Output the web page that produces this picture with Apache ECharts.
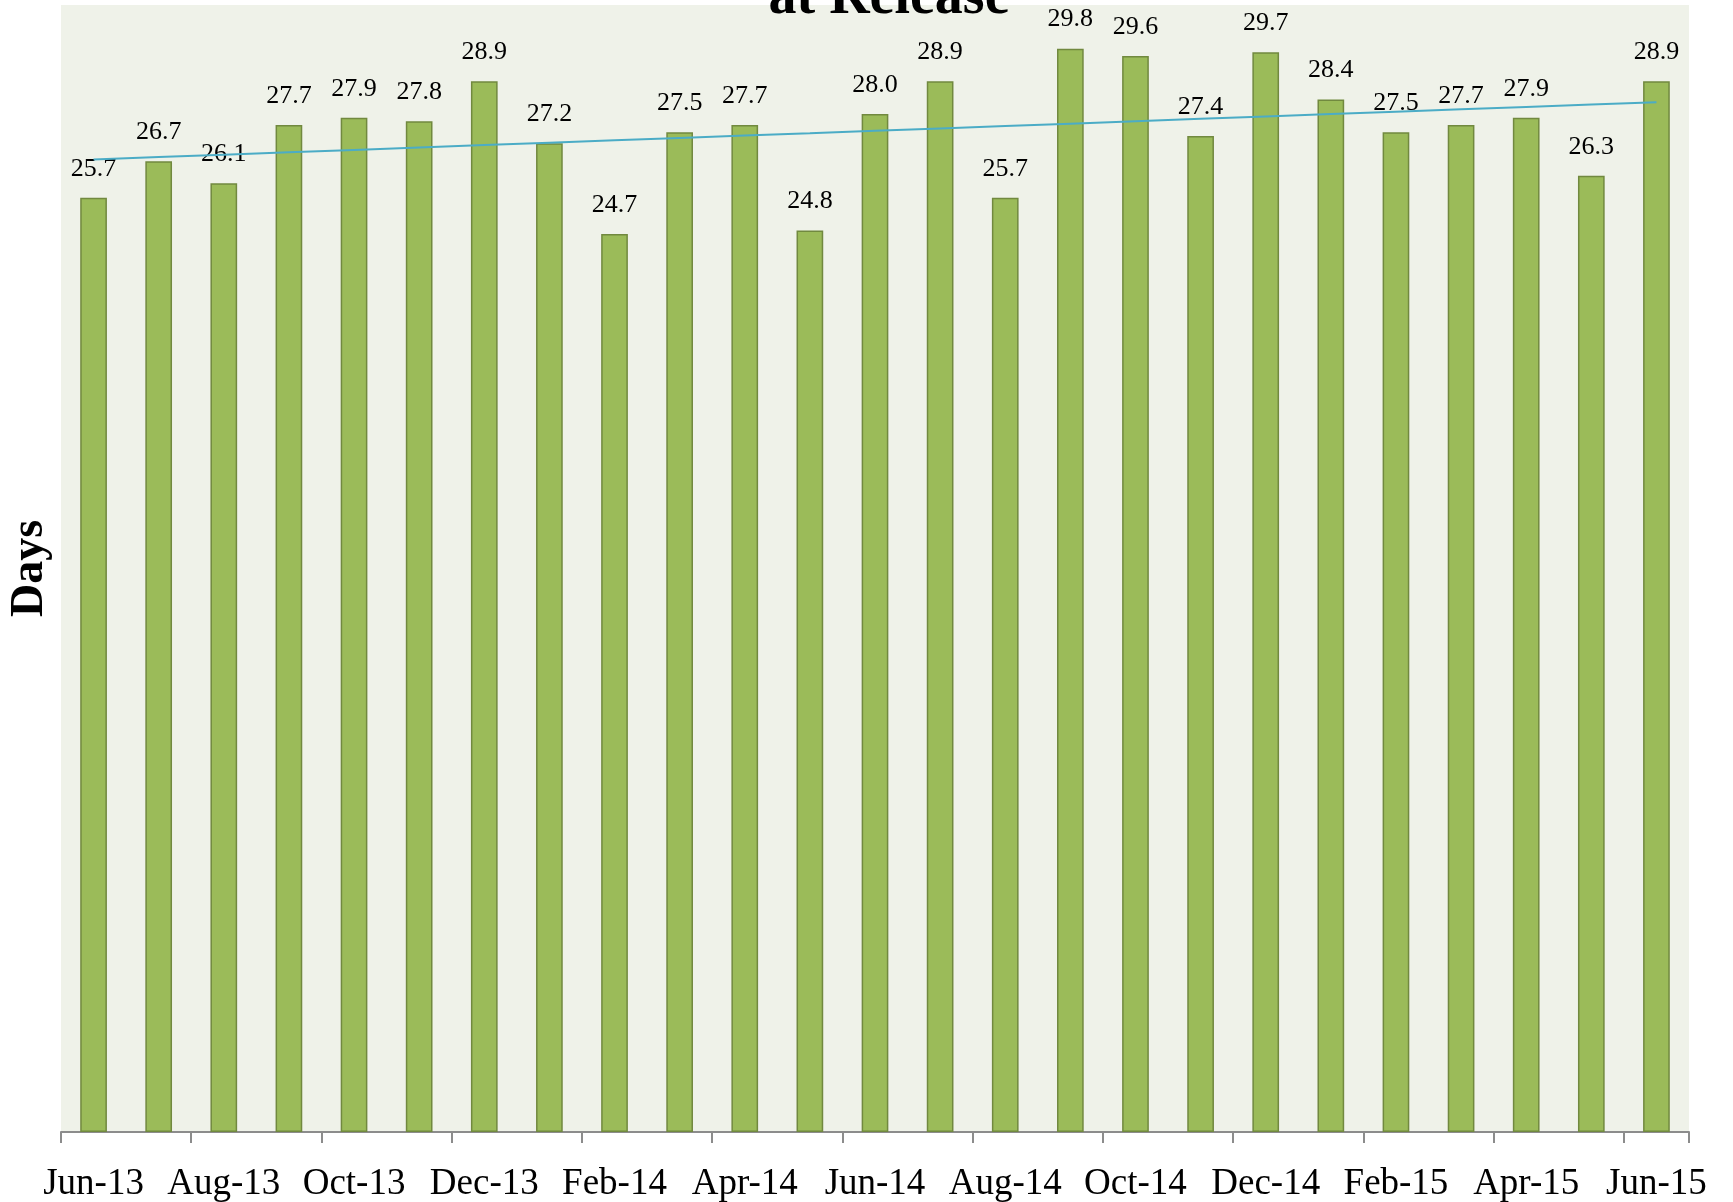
<!DOCTYPE html>
<html>
<head>
<meta charset="utf-8">
<script src="https://cdn.jsdelivr.net/npm/echarts@6/dist/echarts.min.js"></script>
<style>
html,body{margin:0;padding:0;background:#fff;}
#chart{width:1733px;height:1202px;}
</style>
</head>
<body>
<div id="chart"></div>
<script>
const categories = ["Jun-13","Jul-13","Aug-13","Sep-13","Oct-13","Nov-13","Dec-13","Jan-14","Feb-14","Mar-14","Apr-14","May-14","Jun-14","Jul-14","Aug-14","Sep-14","Oct-14","Nov-14","Dec-14","Jan-15","Feb-15","Mar-15","Apr-15","May-15","Jun-15"];
const days = [25.7,26.7,26.1,27.7,27.9,27.8,28.9,27.2,24.7,27.5,27.7,24.8,28.0,28.9,25.7,29.8,29.6,27.4,29.7,28.4,27.5,27.7,27.9,26.3,28.9];
const titleText = "at Release";
const yAxisName = "Days";

// Linear trendline (least squares) derived from the data, like the original's trendline
const n = days.length;
const meanX = (n - 1) / 2;
const meanY = days.reduce((a, b) => a + b, 0) / n;
let sxy = 0, sxx = 0;
days.forEach((v, i) => { sxy += (i - meanX) * (v - meanY); sxx += (i - meanX) * (i - meanX); });
const slope = sxy / sxx;
const trend = days.map((v, i) => +(meanY + slope * (i - meanX)).toFixed(3));

const serif = '"Liberation Serif", "Times New Roman", serif';
const chart = echarts.init(document.getElementById('chart'));
chart.setOption({
  animation: false,
  backgroundColor: '#ffffff',
  title: {
    text: titleText,
    left: 884,
    textAlign: 'center',
    top: -34,
    textStyle: { fontFamily: serif, fontWeight: 'bold', fontSize: 56, color: '#000' }
  },
  grid: {
    left: 61, right: 44, top: 5, bottom: 70,
    outerBoundsMode: 'none',
    containLabel: false,
    show: true, backgroundColor: '#EFF2E9', borderWidth: 0
  },
  xAxis: {
    type: 'category',
    data: categories,
    boundaryGap: true,
    axisLine: { show: true, lineStyle: { color: '#8C8C8C', width: 2 } },
    axisTick: { show: true, interval: 1, length: 11, lineStyle: { color: '#8C8C8C', width: 2 } },
    axisLabel: { interval: 1, margin: 34, fontFamily: serif, fontSize: 37, color: '#000' }
  },
  yAxis: {
    type: 'value',
    min: 0, max: 31,
    name: yAxisName,
    nameLocation: 'middle',
    nameGap: 8,
    nameRotate: 90,
    nameTextStyle: { fontFamily: serif, fontWeight: 'bold', fontSize: 46, color: '#000' },
    axisLine: { show: false },
    axisTick: { show: false },
    axisLabel: { show: false },
    splitLine: { show: false }
  },
  series: [
    {
      type: 'bar',
      data: days,
      barWidth: '41%',
      z: 2,
      itemStyle: { color: '#9BBB59', borderColor: '#71893F', borderWidth: 1.5 },
      label: {
        show: true, position: 'top', distance: 16,
        formatter: p => p.value.toFixed(1),
        fontFamily: serif, fontSize: 26, color: '#000'
      }
    },
    {
      type: 'line',
      data: trend,
      z: 5,
      symbol: 'none',
      silent: true,
      lineStyle: { color: '#4BACC6', width: 2 }
    }
  ]
});
</script>
</body>
</html>
